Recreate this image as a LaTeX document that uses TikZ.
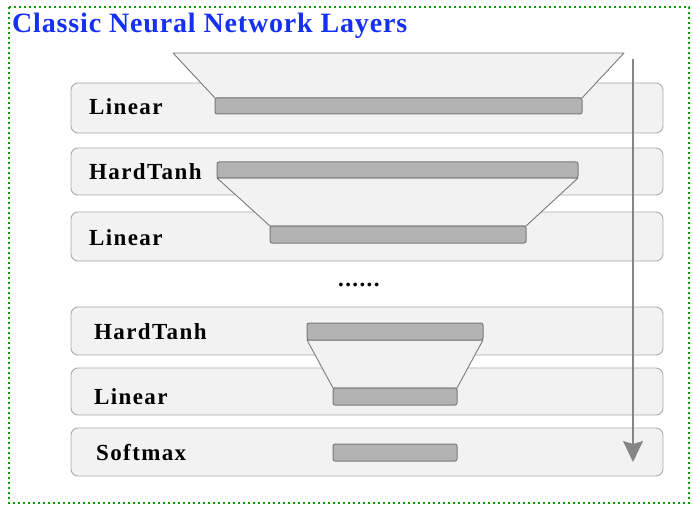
\documentclass[tikz,border=0pt]{standalone}
\usepackage{fontspec}
\setmainfont{Liberation Serif}
\newfontfamily\labelfont[LetterSpace=6]{Liberation Serif}
\newfontfamily\headfont[LetterSpace=3]{Liberation Serif}
\usetikzlibrary{arrows.meta}

\pgfdeclarelayer{back}
\pgfdeclarelayer{mid}
\pgfsetlayers{back,mid,main}

\definecolor{panelfill}{HTML}{F2F2F2}
\definecolor{panelline}{HTML}{ABABAB}
\definecolor{barfill}{HTML}{B3B3B3}
\definecolor{barline}{HTML}{7A7A7A}
\definecolor{framegreen}{HTML}{109A10}
\definecolor{titleblue}{HTML}{1530F5}
\definecolor{arrowgray}{HTML}{858585}

\tikzset{
  layerbox/.style={draw=panelline, fill=panelfill, rounded corners=7pt,
    line width=0.9pt, minimum width=592pt, inner sep=0pt, outer sep=0pt},
  bar/.style={draw=barline, fill=barfill, rounded corners=2pt,
    line width=1pt, inner sep=0pt, outer sep=0pt},
  funnel/.style={draw=barline, fill=panelfill, line width=0.9pt, line join=round},
  lbl/.style={font=\labelfont\fontsize{23}{23}\selectfont\bfseries,
    anchor=base west, inner sep=0pt},
  flow/.style={draw=arrowgray, line width=1.8pt,
    -{Stealth[length=21pt, width=20pt, inset=3pt]}},
  frame/.style={draw=framegreen, line width=2.4pt, dash pattern=on 2.4pt off 2.6pt},
}

\begin{document}
\begin{tikzpicture}[x=1pt, y=-1pt]
\useasboundingbox (0,0) rectangle (693,513);

% outer dotted frame and title
\draw[frame] (9,7) rectangle (689,503);
\node[anchor=base west, inner sep=0pt, text=titleblue,
  font=\headfont\fontsize{28}{28}\selectfont\bfseries] (title) at (12,33)
  {Classic Neural Network Layers};

% layer panels
\begin{pgfonlayer}{back}
\node[layerbox, minimum height=50pt] (L1) at (367,108) {};
\node[layerbox, minimum height=47pt] (L2) at (367,171.5) {};
\node[layerbox, minimum height=49pt] (L3) at (367,236.5) {};
\node[layerbox, minimum height=48pt] (L4) at (367,331) {};
\node[layerbox, minimum height=47pt] (L5) at (367,391.5) {};
\node[layerbox, minimum height=48pt] (L6) at (367,452) {};
\end{pgfonlayer}

% unit bars
\node[bar, minimum width=367pt, minimum height=16pt] (b1) at (398.5,106) {};
\node[bar, minimum width=361pt, minimum height=16pt] (b2) at (397.5,170) {};
\node[bar, minimum width=256pt, minimum height=17pt] (b3) at (398,234.5) {};
\node[bar, minimum width=176pt, minimum height=17pt] (b4) at (395,331.5) {};
\node[bar, minimum width=124pt, minimum height=17pt] (b5) at (395,396.5) {};
\node[bar, minimum width=124pt, minimum height=17pt] (b6) at (395,452.5) {};

% funnels between bars
\coordinate (inL) at (173,53);
\coordinate (inR) at (624,53);
\begin{pgfonlayer}{mid}
\draw[funnel] (inL) -- (inR) -- (b1.north east) -- (b1.north west) -- cycle;
\draw[funnel] (b2.south west) -- (b2.south east) -- (b3.north east) -- (b3.north west) -- cycle;
\draw[funnel] (b4.south west) -- (b4.south east) -- (b5.north east) -- (b5.north west) -- cycle;
\end{pgfonlayer}

% layer names
\node[lbl] (t1) at (89,115) {Linear};
\node[lbl] (t2) at (89,180) {HardTanh};
\node[lbl] (t3) at (89,245) {Linear};
\node[lbl] (t4) at (94,339) {HardTanh};
\node[lbl] (t5) at (94,404) {Linear};
\node[lbl] (t6) at (96,460) {Softmax};
\node[lbl] (gap) at (338,286) {......};

% direction of data flow
\coordinate (fTop) at (633,59);
\coordinate (fEnd) at (633,462);
\draw[flow] (fTop) -- (fEnd);
\end{tikzpicture}
\end{document}
